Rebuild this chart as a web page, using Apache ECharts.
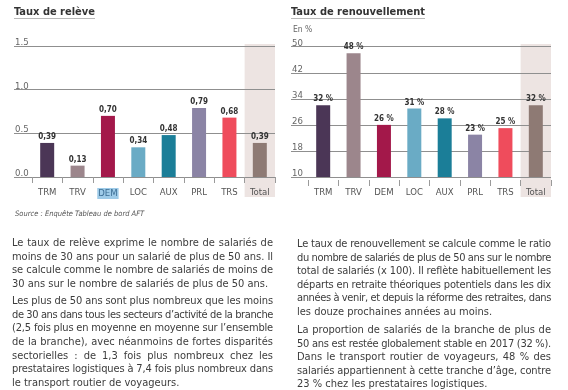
<!DOCTYPE html>
<html><head><meta charset="utf-8">
<script src="https://cdn.jsdelivr.net/npm/echarts@6/dist/echarts.min.js"></script>
<style>
html,body{margin:0;padding:0;background:#fff;}
#c{position:absolute;left:0;top:0;width:568px;height:390px;}
.ttl{position:absolute;font-family:'Liberation Sans Narrow','DejaVu Sans Condensed',Roboto,sans-serif;font-weight:bold;font-size:11px;line-height:11px;color:#333;border-bottom:1px solid #b8b8b8;padding-bottom:1px;white-space:nowrap;}
.src{position:absolute;font-family:'Liberation Sans Narrow','DejaVu Sans Condensed',Roboto,sans-serif;font-style:italic;font-size:7.5px;color:#555;white-space:nowrap;}
.ln{position:absolute;font-family:'Liberation Sans Narrow','DejaVu Sans Condensed',Roboto,sans-serif;font-size:11px;line-height:13.7px;color:#3c3c3c;white-space:nowrap;}
</style></head><body>
<div id="c"></div>
<script>
// ---- data ----
const categories = ['TRM','TRV','DEM','LOC','AUX','PRL','TRS','Total'];
const releveValues = [0.39,0.13,0.70,0.34,0.48,0.79,0.68,0.39];
const renouvValues = [32,48,26,31,28,23,25,32];
const releveTicks = [0,0.5,1.0,1.5];
const renouvTicks = [10,18,26,34,42,50];
const barColors = ['#4b3656','#9c868c','#a3184a','#6aabc5','#1b7e98','#8b84a5','#ef4c5c','#8e7a74'];
const highlightCategory = 'DEM';
const bandCategory = 'Total';
const titleReleve = 'Taux de relève';
const titleRenouv = 'Taux de renouvellement';
const unitRenouv = 'En %';
const sourceText = 'Source : Enquête Tableau de bord AFT';
const leftPara1 = [
 'Le taux de relève exprime le nombre de salariés de',
 'moins de 30 ans pour un salarié de plus de 50 ans. Il',
 'se calcule comme le nombre de salariés de moins de',
 '30 ans sur le nombre de salariés de plus de 50 ans.'];
const leftPara2 = [
 'Les plus de 50 ans sont plus nombreux que les moins',
 'de 30 ans dans tous les secteurs d\u2019activité de la branche',
 '(2,5 fois plus en moyenne en moyenne sur l\u2019ensemble',
 'de la branche), avec néanmoins de fortes disparités',
 'sectorielles : de 1,3 fois plus nombreux chez les',
 'prestataires logistiques à 7,4 fois plus nombreux dans',
 'le transport routier de voyageurs.'];
const rightPara1 = [
 'Le taux de renouvellement se calcule comme le ratio',
 'du nombre de salariés de plus de 50 ans sur le nombre',
 'total de salariés (x 100). Il reflète habituellement les',
 'départs en retraite théoriques potentiels dans les dix',
 'années à venir, et depuis la réforme des retraites, dans',
 'les douze prochaines années au moins.'];
const rightPara2 = [
 'La proportion de salariés de la branche de plus de',
 '50 ans est restée globalement stable en 2017 (32\u00a0%).',
 'Dans le transport routier de voyageurs, 48\u00a0% des',
 'salariés appartiennent à cette tranche d\u2019âge, contre',
 '23\u00a0% chez les prestataires logistiques.'];

// ---- text blocks ----
function addDiv(cls, text, left, top){
  const d=document.createElement('div'); d.className=cls; d.textContent=text;
  d.style.left=left+'px'; d.style.top=top+'px'; document.body.appendChild(d); return d;
}
addDiv('ttl', titleReleve, 14, 6);
addDiv('ttl', titleRenouv, 291, 6);
addDiv('src', sourceText, 15, 209);
function addPara(lines, left, top, width, lh){
  lines.forEach((ln,i)=>{
    const d=document.createElement('div'); d.className='ln';
    d.style.left=left+'px'; d.style.top=(top+i*lh)+'px';
    const s=document.createElement('span'); s.textContent=ln; d.appendChild(s);
    document.body.appendChild(d);
    const w=s.getBoundingClientRect().width;
    const n=(ln.match(/[ \u00a0]/g)||[]).length;
    if(i<lines.length-1){
      if(w<=width) s.style.wordSpacing=((width-w)/n)+'px';
      else s.style.letterSpacing=((width-w)/ln.length)+'px';
    } else if(w>width){
      s.style.letterSpacing=((width-w)/ln.length)+'px';
    }
  });
}
addPara(leftPara1, 12, 236, 261, 13.7);
addPara(leftPara2, 12, 294, 261, 13.67);
addPara(rightPara1, 297, 237, 254, 13.6);
addPara(rightPara2, 297, 323, 254, 13.6);

// ---- chart ----
const FONT = "'Liberation Sans Narrow','DejaVu Sans Condensed',Roboto,sans-serif";
const chart = echarts.init(document.getElementById('c'), null, {renderer:'canvas'});
const gridLineStyle = {color:'#8f8f8f', width:1};
function catAxis(gi, withHighlight){
  return {type:'category', gridIndex:gi, data:categories, offset:3, z:5,
    axisLine:{show:false},
    axisTick:{show:true, length:6, lineStyle:{color:'#9a9a9a'}},
    axisLabel:{interval:0, hideOverlap:false, margin:8, fontSize:9.5, color:'#555', fontFamily:FONT,
      formatter: v => (withHighlight && v===highlightCategory) ? '{hl|'+v+'}' : v,
      rich:{hl:{backgroundColor:'#9ecbe8', color:'#3d6f95', padding:[1,1,0,1], fontSize:9.5, fontFamily:FONT}}}};
}
function gridAxis(gi, ticks, fmt, name){
  const o = {type:'value', gridIndex:gi, min:ticks[0], max:ticks[ticks.length-1],
    interval:ticks[1]-ticks[0], z:4,
    axisLine:{show:false}, axisTick:{show:false},
    splitLine:{show:true, lineStyle:gridLineStyle},
    axisLabel:{inside:true, margin:1, verticalAlign:'bottom', lineHeight:7, fontSize:9.5, color:'#666', fontFamily:FONT, formatter:fmt}};
  if(name){ o.name=name; o.nameLocation='end'; o.nameGap=12;
    o.nameTextStyle={align:'left', fontSize:8.5, color:'#666', fontFamily:FONT, padding:[0,0,0,2]}; }
  return o;
}
function barSeries(xi, values, fmt){
  return {type:'bar', xAxisIndex:xi, yAxisIndex:xi, barWidth:14, z:6,
    data: values.map((v,i)=>({value:v, itemStyle:{color:barColors[i]}})),
    label:{show:true, position:'top', distance:2, fontSize:8, fontWeight:'bold', color:'#333', fontFamily:FONT, formatter:p=>fmt(p.value)}};
}
function bandSeries(xi){
  return {type:'bar', xAxisIndex:xi, yAxisIndex:xi, barWidth:'100%', z:1, silent:true,
    itemStyle:{color:'#ede4e2'},
    data: categories.map(c => c===bandCategory ? 1 : null)};
}
const option = {
  animation:false,
  grid:[
    {left:32, width:243, top:46, height:131},
    {left:14, width:261, top:46, height:131},
    {left:32, width:243, top:44, height:153},
    {left:308, width:243, top:46.7, height:130.3},
    {left:291, width:260, top:46.7, height:130.3},
    {left:308, width:243, top:44, height:153}
  ],
  xAxis:[
    catAxis(0, true),
    {type:'value', gridIndex:1, show:false},
    {type:'category', gridIndex:2, data:categories, show:false},
    catAxis(3, false),
    {type:'value', gridIndex:4, show:false},
    {type:'category', gridIndex:5, data:categories, show:false}
  ],
  yAxis:[
    {type:'value', gridIndex:0, min:releveTicks[0], max:releveTicks[releveTicks.length-1], show:false},
    gridAxis(1, releveTicks, v=>v.toFixed(1)),
    {type:'value', gridIndex:2, min:0, max:1, show:false},
    {type:'value', gridIndex:3, min:renouvTicks[0], max:renouvTicks[renouvTicks.length-1], show:false},
    gridAxis(4, renouvTicks, v=>String(v), unitRenouv),
    {type:'value', gridIndex:5, min:0, max:1, show:false}
  ],
  series:[
    barSeries(0, releveValues, v=>v.toFixed(2).replace('.',',')),
    bandSeries(2),
    barSeries(3, renouvValues, v=>v+' %'),
    bandSeries(5)
  ]
};
chart.setOption(option);
</script>
</body></html>
